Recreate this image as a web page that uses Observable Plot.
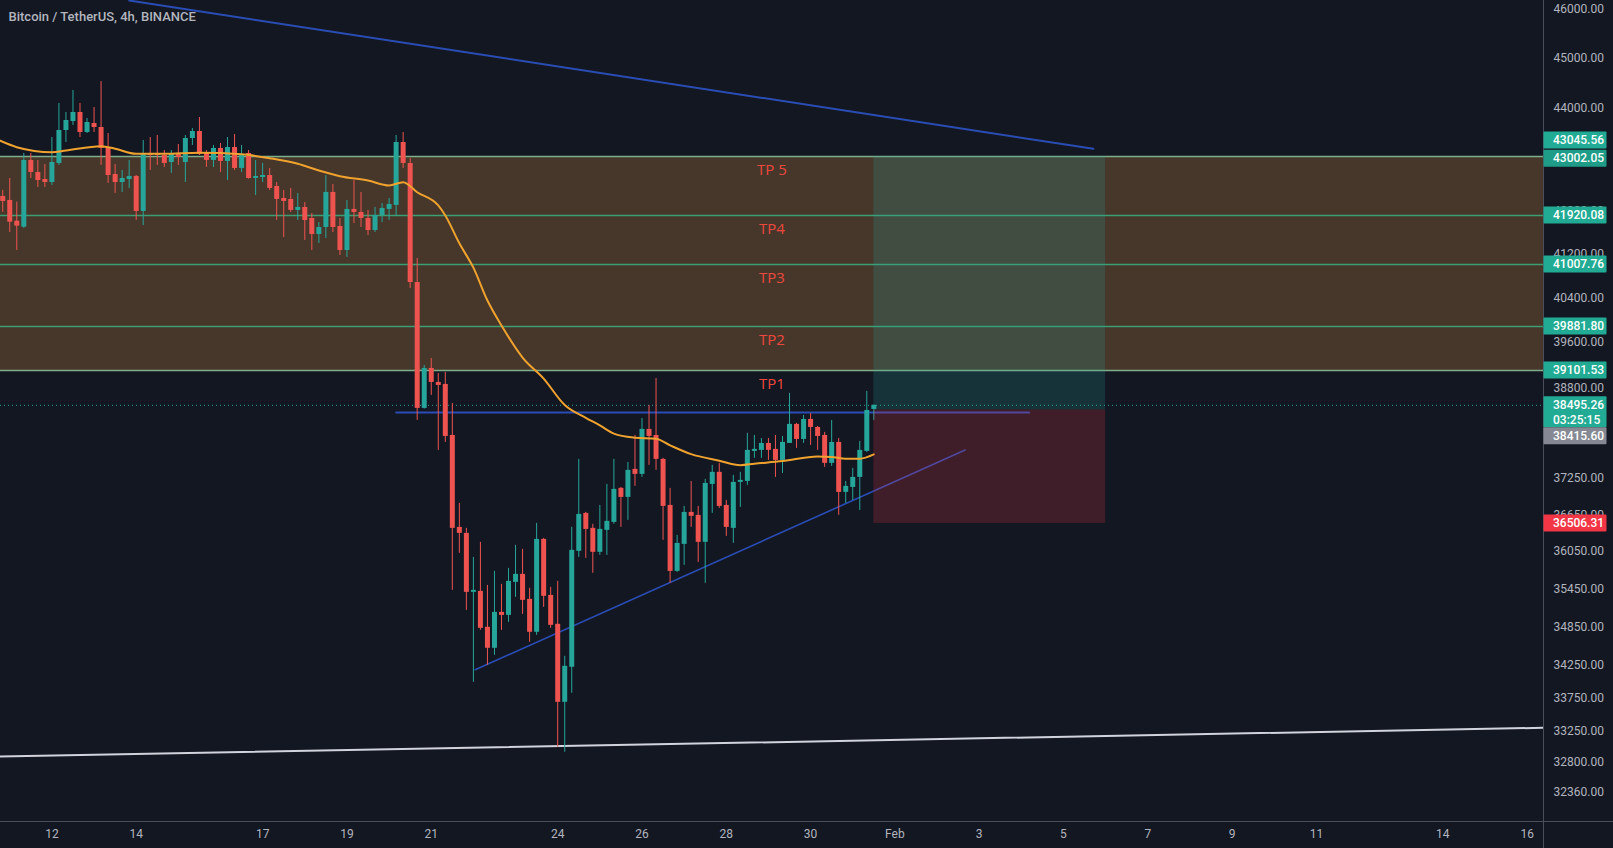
<!DOCTYPE html>
<html><head><meta charset="utf-8">
<script src="https://cdn.jsdelivr.net/npm/d3@7"></script>
<script src="https://cdn.jsdelivr.net/npm/@observablehq/plot@0.6"></script>
<style>
html,body{margin:0;padding:0;background:#131722;overflow:hidden}
#chart{width:1613px;height:848px}
</style></head><body><div id="chart"></div>
<script>
// ---------- data ----------
const title = "Bitcoin / TetherUS, 4h, BINANCE";
const firstCandle = "2022-01-10T20:00Z"; // 4h candles
const open = [42281,42205,41814,41701,42970,42739,42604,42547,42912,43552,43728,43905,43513,43689,43611,43202,42700,42547,42604,42662,41997,43105,43105,43066,42931,43105,42931,43396,43532,43124,42970,43202,42951,43221,42816,43105,42623,42642,42681,42471,42243,42224,42016,42073,41865,41565,41695,42357,41714,41267,42035,41978,41865,41639,41921,42035,42110,43318,42912,40678,38442,39138,38893,38858,37978,36442,36344,35394,35410,34843,34516,35077,35030,35553,35681,35283,34765,36246,35346,34890,33689,34223,36052,36672,36426,36036,36393,36524,37086,36936,37404,37320,38081,37978,37572,36803,35729,36165,36688,36639,36198,37152,37354,36803,36426,37186,37202,37707,37724,37842,37741,37555,37842,38167,37910,38252,38115,37978,37505,37859,37019,37102,37269,37707,38424];
const high = [42395,42623,42173,43105,43105,42970,42893,43415,44084,43905,44341,44084,43787,44004,44520,43493,42893,42777,42970,42681,43357,43415,43454,43163,43163,43279,43454,43591,43807,43163,43260,43299,43415,43474,43260,43163,42970,42912,42816,42547,42395,42433,42338,42167,41959,41789,42681,42509,41865,42205,42585,42357,42016,42073,42148,42243,43454,43513,43008,41119,39191,39314,39050,39068,38528,36836,36426,35954,36198,35505,35729,35521,35777,36149,36084,35458,36508,36263,35474,35569,34392,36442,37572,36688,36492,36803,37152,37572,37102,37521,37978,38269,38494,38963,37589,37086,36311,36787,37202,36787,37236,37471,37505,36886,37303,37354,38013,37978,37927,37927,37978,37961,38702,38184,38321,38355,38132,38030,38235,37927,37202,37421,37876,38737,38500];
const low = [41978,41602,41267,41677,42623,42452,42452,42490,42874,43318,43650,43415,43493,43513,42874,42528,42338,42357,42433,41827,41733,42777,42874,42835,42720,42874,42547,43260,43066,42835,42835,42739,42585,42777,42739,42610,42300,42547,42395,41827,41509,41978,41827,41453,41267,41397,41490,41602,41174,41137,41771,41695,41546,41602,41789,41827,41902,42816,40569,38235,38430,38667,37724,37859,35426,36019,35109,33993,34796,34253,34407,34796,34921,35315,35046,34609,34718,35156,34827,33016,32942,33825,35954,35938,35697,35987,35987,36492,36442,36557,37119,37269,37471,37387,36230,35537,35713,35826,36442,35874,35537,36672,36754,36295,36181,36770,37136,37589,37589,37555,37269,37336,37842,37758,37842,37808,37724,37438,37454,36639,36836,36886,36721,37690,38235];
const close = [42186,41795,41720,42970,42739,42585,42547,42931,43552,43748,43905,43513,43709,43611,43202,42681,42547,42623,42662,41997,43086,43066,43066,42912,43086,43027,43396,43532,43086,42970,43202,42951,43221,42816,43066,42623,42662,42681,42433,42224,42186,42016,42073,41827,41565,41695,42357,41695,41267,42035,41978,41865,41639,41921,42054,42129,43318,42912,40678,38442,39138,38893,38841,37961,36426,36344,35394,35426,34827,34516,35077,35030,35569,35681,35267,34765,36246,35331,34874,33689,34238,36068,36655,36409,36036,36409,36541,37069,36936,37387,37320,38081,37961,37572,36787,35729,36181,36688,36623,36198,37169,37354,36787,36442,37186,37219,37724,37741,37842,37724,37555,37859,38167,37910,38252,38115,37961,37505,37859,37019,37119,37269,37724,38407,38495.26];

// moving average (orange)
const maTimes = ["2022-01-10T16:00Z","2022-01-11T04:00Z","2022-01-12T00:00Z","2022-01-12T08:00Z","2022-01-13T04:00Z","2022-01-13T12:00Z","2022-01-14T00:00Z","2022-01-14T16:00Z","2022-01-15T12:00Z","2022-01-16T12:00Z","2022-01-17T04:00Z","2022-01-17T20:00Z","2022-01-18T08:00Z","2022-01-18T20:00Z","2022-01-19T12:00Z","2022-01-20T00:00Z","2022-01-20T08:00Z","2022-01-20T16:00Z","2022-01-21T04:00Z","2022-01-21T08:00Z","2022-01-21T16:00Z","2022-01-22T00:00Z","2022-01-22T08:00Z","2022-01-22T16:00Z","2022-01-23T04:00Z","2022-01-23T16:00Z","2022-01-24T04:00Z","2022-01-24T16:00Z","2022-01-25T00:00Z","2022-01-25T08:00Z","2022-01-25T20:00Z","2022-01-26T08:00Z","2022-01-26T16:00Z","2022-01-27T04:00Z","2022-01-27T20:00Z","2022-01-28T08:00Z","2022-01-28T16:00Z","2022-01-29T08:00Z","2022-01-30T04:00Z","2022-01-30T12:00Z","2022-01-30T20:00Z","2022-01-31T04:00Z","2022-01-31T12:00Z"];
const maValues = [43390,43227,43130,43163,43246,43196,43098,43098,43118,43090,43013,42905,42777,42668,42585,42490,42553,42361,42110,41921,41400,40950,40350,39900,39330,38960,38500,38280,38150,38010,37940,37920,37809,37660,37550,37475,37499,37543,37620,37611,37584,37584,37656];

// take-profit zone and levels
const zoneTop = 43045.56, zoneBottom = 39101.53;
const tpNames = ["TP 5","TP4","TP3","TP2","TP1"];
const tpPrices = [43045.56, 41920.08, 41007.76, 39881.80, 39101.53];
const tpLabelTime = "2022-01-29T02:00Z";

// long position tool
const posStart = "2022-01-31T12:00Z", posEnd = "2022-02-06T00:00Z";
const entry = 38415.60, target = 43045.56, stop = 36506.31;
const lastPrice = 38495.26, countdown = "03:25:15";

// drawn trend lines
const descLine = {t: ["2022-01-13T20:00Z","2022-02-05T17:00Z"], p: [46170, 43195]};
const ascLine  = {t: ["2022-01-22T01:00Z","2022-02-02T16:00Z"], p: [34185, 37729]};
const flatLine = {t: ["2022-01-20T04:00Z","2022-02-04T04:30Z"], p: [38372, 38372]};
const whiteLine = {t: ["2022-01-10T16:00Z","2022-02-16T12:00Z"], p: [32876, 33307]};

// axes
const xDomain = ["2022-01-10T18:44Z","2022-02-16T09:19Z"];
const yDomain = [31933, 46170];
const xTicks = ["2022-01-12","2022-01-14","2022-01-17","2022-01-19","2022-01-21","2022-01-24","2022-01-26","2022-01-28","2022-01-30","2022-02-01","2022-02-03","2022-02-05","2022-02-07","2022-02-09","2022-02-11","2022-02-14","2022-02-16"];
const yTicks = [46000,45000,44000,42000,41200,40400,39600,38800,37250,36650,36050,35450,34850,34250,33750,33250,32800,32360];

// right-side price tags
const tagValues = [43045.56, 43002.05, 41920.08, 41007.76, 39881.80, 39101.53, 36506.31];
const tagColors = ["#22ab94","#1e9c87","#22ab94","#22ab94","#22ab94","#22ab94","#f23645"];

// ---------- build ----------
const D = s => new Date(s);
const start = D(firstCandle);
const candles = open.map((o, i) => ({
  date: new Date(+start + i * 4 * 3600e3), open: o, high: high[i], low: low[i], close: close[i]
}));
const up = "#26a69a", down = "#ef5350";
const col = d => d.close >= d.open ? up : down;
const ma = maTimes.map((t, i) => ({date: D(t), v: maValues[i]}));
const seg = L => L.t.map((t, i) => ({date: D(t), v: L.p[i]}));
const tps = tpNames.map((n, i) => ({name: n, price: tpPrices[i], date: D(tpLabelTime)}));

const chart = Plot.plot({
  width: 1613, height: 848,
  marginLeft: 0, marginRight: 70, marginTop: 0, marginBottom: 27,
  style: {background: "#131722", color: "#b2b5be", fontFamily: "Roboto, 'Open Sans', sans-serif", fontSize: "12px"},
  x: {type: "utc", domain: xDomain.map(D)},
  y: {type: "log", domain: yDomain},
  marks: [
    Plot.rect([0], {x1: D(xDomain[0]), x2: D(xDomain[1]), y1: zoneBottom, y2: zoneTop, fill: "#46372a"}),
    Plot.ruleY([tpPrices[1], tpPrices[2], tpPrices[3]], {stroke: "#3f9d74", strokeWidth: 1.5}),
    Plot.ruleY([zoneTop, zoneBottom], {stroke: "#7fae8a", strokeWidth: 1.5}),
    Plot.line(seg(whiteLine), {x: "date", y: "v", stroke: "#d1d4dc", strokeWidth: 2, clip: true}),
    Plot.line(seg(descLine), {x: "date", y: "v", stroke: "#2a4db5", strokeWidth: 2, clip: true}),
    Plot.line(seg(ascLine), {x: "date", y: "v", stroke: "#2a4db5", strokeWidth: 1.6}),
    Plot.line(seg(flatLine), {x: "date", y: "v", stroke: "#2a4db5", strokeWidth: 2}),
    Plot.ruleY([lastPrice], {stroke: "#26a69a", strokeDasharray: "1,3", strokeWidth: 1}),
    Plot.ruleX(candles, {x: "date", y1: "low", y2: "high", stroke: col, strokeWidth: 1}),
    Plot.ruleX(candles, {x: "date", y1: "open", y2: "close", stroke: col, strokeWidth: 5}),
    Plot.line(ma, {x: "date", y: "v", stroke: "#f0a22e", strokeWidth: 2, curve: "monotone-x", clip: true}),
    Plot.rect([0], {x1: D(posStart), x2: D(posEnd), y1: entry, y2: target, fill: "#26a69a", fillOpacity: 0.2}),
    Plot.rect([0], {x1: D(posStart), x2: D(posEnd), y1: stop, y2: entry, fill: "#f23645", fillOpacity: 0.2}),
    Plot.text(tps, {x: "date", y: "price", text: "name", dy: 14, fill: "#f0473e", fontSize: 15, fontFamily: "'Open Sans', sans-serif"}),
    Plot.text([title], {frameAnchor: "top-left", dx: 8, dy: 11, lineAnchor: "top", fill: "#b2b5be", fontSize: 13, fontWeight: 500, fontFamily: "Roboto, sans-serif"}),
    Plot.axisY({ticks: yTicks, anchor: "right", tickSize: 0, tickPadding: 10, tickFormat: d => d.toFixed(2), label: null, fontSize: 12}),
    Plot.axisX({ticks: xTicks.map(D), anchor: "bottom", tickSize: 0, tickPadding: 8, label: null, fontSize: 12,
      tickFormat: d => d.getUTCDate() === 1 ? d3.utcFormat("%b")(d) : String(d.getUTCDate())})
  ]
});
document.getElementById("chart").appendChild(chart);

// ---------- overlay: axis borders and price tags ----------
const ys = chart.scale("y");
const svg = d3.select(chart);
const axX = 1543.5, axY = 821.5;
svg.append("line").attr("x1", 0).attr("x2", 1613).attr("y1", axY).attr("y2", axY).attr("stroke", "#4a4e5a");
svg.append("line").attr("x1", axX).attr("x2", axX).attr("y1", 0).attr("y2", 848).attr("stroke", "#4a4e5a");

const tagG = svg.append("g").attr("font-family", "Roboto, sans-serif").attr("font-size", 12)
  .attr("text-anchor", "start").attr("font-weight", 500);
function tag(yc, top, h, color, lines) {
  tagG.append("rect").attr("x", axX).attr("y", top).attr("width", 63).attr("height", h).attr("rx", 1).attr("fill", color);
  lines.forEach((t, i) => {
    tagG.append("text").attr("x", 1553).attr("y", yc + i * 14.5).attr("dy", "0.35em").attr("fill", "#ffffff").text(t);
  });
}
const shift = {0: -16};
tagValues.forEach((v, i) => {
  const y = ys.apply(v) + (shift[i] || 0);
  tag(y, y - 8.5, 17, tagColors[i], [v.toFixed(2)]);
});
const yLast = ys.apply(lastPrice);
tag(yLast, yLast - 8.5, 31, "#22ab94", [lastPrice.toFixed(2), countdown]);
tag(yLast + 31, yLast + 22.5, 17, "#868993", [entry.toFixed(2)]);
</script>
</body></html>
